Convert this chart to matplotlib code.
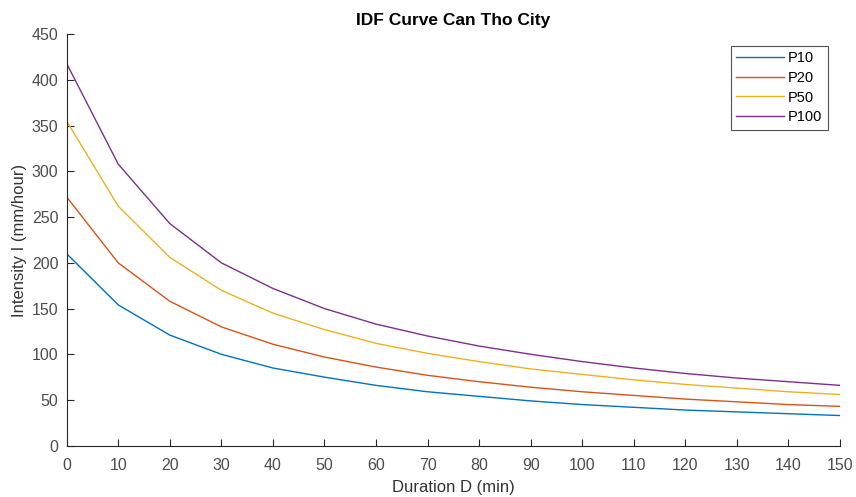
import matplotlib.pyplot as plt

plt.rcParams["font.family"] = ["Liberation Sans", "DejaVu Sans"]

duration = [0, 10, 20, 30, 40, 50, 60, 70, 80, 90, 100, 110, 120, 130, 140, 150]
p10 = [210, 154, 121, 100, 85, 75, 66, 59, 54, 49, 45, 42, 39, 37, 35, 33]
p20 = [272, 200, 158, 130, 111, 97, 86, 77, 70, 64, 59, 55, 51, 48, 45, 43]
p50 = [355, 262, 206, 170, 145, 127, 112, 101, 92, 84, 78, 72, 67, 63, 59, 56]
p100 = [418, 308, 243, 200, 172, 150, 133, 120, 109, 100, 92, 85, 79, 74, 70, 66]

series = [("P10", p10, "#0072BD"), ("P20", p20, "#D95319"),
          ("P50", p50, "#EDB120"), ("P100", p100, "#7E2F8E")]

fig = plt.figure(figsize=(8.56, 4.97), dpi=100)
ax = fig.add_axes([0.0779, 0.1032, 0.9034, 0.8278])

for name, vals, col in series:
    ax.plot(duration, vals, color=col, linewidth=1.0, label=name)

ax.set_xlim(0, 150)
ax.set_ylim(0, 450)
ax.set_xticks(range(0, 151, 10))
ax.set_yticks(range(0, 451, 50))
ax.spines["top"].set_visible(False)
ax.spines["right"].set_visible(False)
for s in ["left", "bottom"]:
    ax.spines[s].set_color("#262626")
    ax.spines[s].set_linewidth(0.8)
ax.tick_params(direction="in", length=5, width=0.8, colors="#262626",
               labelcolor="#4d4d4d", labelsize=11.5, pad=6)
ax.tick_params(axis="x", pad=9)

ax.set_xlabel("Duration D (min)", fontsize=12, color="#333333", labelpad=5)
ax.set_ylabel("Intensity I (mm/hour)", fontsize=12, color="#333333", labelpad=3)
ax.set_title("IDF Curve Can Tho City", fontsize=12.5, fontweight="bold", pad=7)

leg = ax.legend(loc="upper right", bbox_to_anchor=(0.984, 0.972), fontsize=10.5,
                frameon=True, fancybox=False, edgecolor="#262626",
                handlelength=3.3, handletextpad=0.25, labelspacing=0.4,
                borderpad=0.35, borderaxespad=0)
leg.get_frame().set_linewidth(0.8)

plt.savefig("out.png", dpi=100)
